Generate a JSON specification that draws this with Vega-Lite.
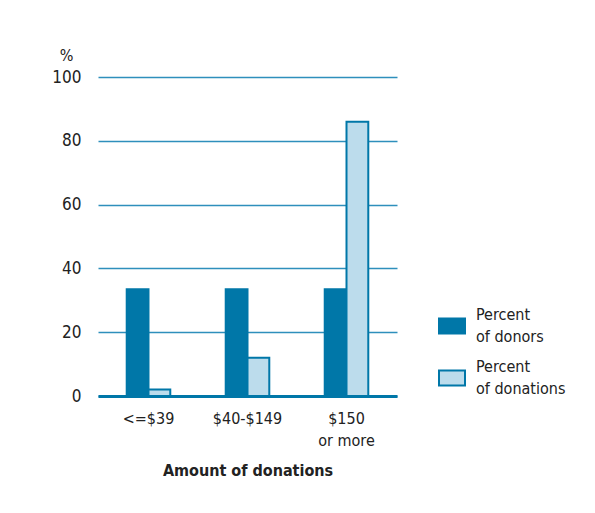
{
  "$schema": "https://vega.github.io/schema/vega-lite/v6.json",
  "width": 299,
  "height": 319,
  "autosize": {"type": "none"},
  "padding": {"left": 98, "top": 77, "right": 198, "bottom": 117},
  "background": "white",
  "config": {
    "view": {"stroke": null},
    "font": "DejaVu Sans Condensed, Roboto, sans-serif",
    "style": {"guide-label": {"lineHeight": 22}}
  },
  "data": {
    "values": [
      {"amount": "<=$39", "series": "Percent of donors", "value": 33.5},
      {"amount": "<=$39", "series": "Percent of donations", "value": 2},
      {"amount": "$40-$149", "series": "Percent of donors", "value": 33.5},
      {"amount": "$40-$149", "series": "Percent of donations", "value": 12},
      {"amount": "$150 or more", "series": "Percent of donors", "value": 33.5},
      {"amount": "$150 or more", "series": "Percent of donations", "value": 86}
    ]
  },
  "mark": {"type": "bar", "stroke": "#0077a8", "strokeWidth": 2},
  "encoding": {
    "x": {
      "field": "amount",
      "type": "nominal",
      "sort": ["<=$39", "$40-$149", "$150 or more"],
      "scale": {"paddingInner": 0.56, "paddingOuter": 0.29},
      "axis": {
        "title": "Amount of donations",
        "titleFont": "DejaVu Sans Condensed, Roboto, sans-serif",
        "titleFontWeight": "bold",
        "titleFontSize": 16,
        "titleColor": "#222",
        "titlePadding": 14,
        "labelAngle": 0,
        "labelFontSize": 16,
        "labelColor": "#222",
        "labelPadding": 14,
        "labelLineHeight": 22,
        "labelExpr": "datum.value == '$150 or more' ? ['$150', 'or more'] : datum.value",
        "ticks": false,
        "domainColor": "#0077a8",
        "domainWidth": 3
      }
    },
    "xOffset": {
      "field": "series",
      "type": "nominal",
      "sort": ["Percent of donors", "Percent of donations"],
      "scale": {"paddingInner": 0, "paddingOuter": 0}
    },
    "y": {
      "field": "value",
      "type": "quantitative",
      "scale": {"domain": [0, 100]},
      "axis": {
        "values": [0, 20, 40, 60, 80, 100],
        "title": "%",
        "titleAngle": 0,
        "titleAlign": "center",
        "titleBaseline": "bottom",
        "titleX": -32,
        "titleY": -14,
        "titleFontSize": 16,
        "titleFontWeight": "normal",
        "titleColor": "#222",
        "labelFontSize": 17,
        "labelColor": "#222",
        "labelPadding": 17,
        "ticks": false,
        "domain": false,
        "grid": true,
        "gridColor": "#2e8fbc",
        "gridWidth": 1.5
      }
    },
    "fill": {
      "field": "series",
      "type": "nominal",
      "sort": ["Percent of donors", "Percent of donations"],
      "scale": {"range": ["#0077a8", "#bcdcec"]},
      "legend": {
        "title": null,
        "orient": "none",
        "legendX": 340,
        "legendY": 235,
        "labelFontSize": 16,
        "labelColor": "#222",
        "labelOffset": 10,
        "labelBaseline": "line-bottom",
        "labelExpr": "['Percent', slice(datum.label, 8)]",
        "symbolType": "M-1,-0.577H1V0.577H-1Z",
        "symbolSize": 676,
        "symbolStrokeColor": "#0077a8",
        "symbolStrokeWidth": 2,
        "rowPadding": 14
      }
    }
  }
}
